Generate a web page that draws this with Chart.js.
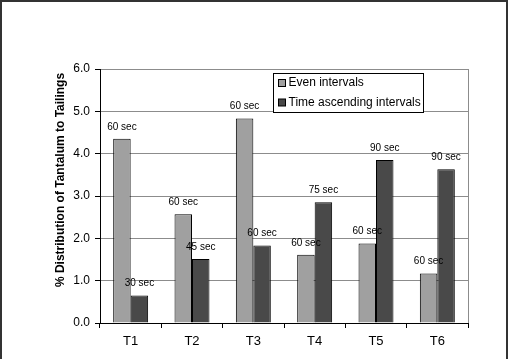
<!DOCTYPE html>
<html>
<head>
<meta charset="utf-8">
<script src="https://cdn.jsdelivr.net/npm/chart.js@4.4.0/dist/chart.umd.min.js"></script>
<style>
  html, body { margin: 0; padding: 0; background: #ffffff; }
  canvas { display: block; }
</style>
</head>
<body>
<canvas id="myChart" width="511" height="359"></canvas>
<script>
'use strict';

// chart data
let categories = ['T1', 'T2', 'T3', 'T4', 'T5', 'T6'];
let evenValues = [4.35, 2.57, 4.83, 1.61, 1.88, 1.17];
let timeValues = [0.65, 1.51, 1.83, 2.85, 3.85, 3.63];
let evenLabels = ['60 sec', '60 sec', '60 sec', '60 sec', '60 sec', '60 sec'];
let timeLabels = ['30 sec', '45 sec', '60 sec', '75 sec', '90 sec', '90 sec'];
let seriesNames = ['Even intervals', 'Time ascending intervals'];
let yTicks = ['0.0', '1.0', '2.0', '3.0', '4.0', '5.0', '6.0'];

let font = 'Liberation Sans, Arial, sans-serif';
let evenColor = '#a0a0a0';
let timeColor = '#494949';

// draws the frame, bar labels, y title and legend
let extras = {
  id: 'extras',
  beforeDraw(chart) {
    let ctx = chart.ctx;
    ctx.save();
    ctx.fillStyle = '#ffffff';
    ctx.fillRect(0, 0, chart.width, chart.height);
    ctx.restore();
  },
  afterDraw(chart) {
    let ctx = chart.ctx;
    let area = chart.chartArea;
    ctx.save();

    // outer frame
    ctx.strokeStyle = '#333333';
    ctx.lineWidth = 2;
    ctx.strokeRect(1, 1, 506, 400);

    // right edge of the plot
    ctx.strokeStyle = '#8c8c8c';
    ctx.lineWidth = 1;
    ctx.beginPath();
    ctx.moveTo(Math.round(area.right) + 0.5, area.top);
    ctx.lineTo(Math.round(area.right) + 0.5, area.bottom);
    ctx.stroke();

    // labels over the bars
    ctx.fillStyle = '#000000';
    ctx.font = '10px ' + font;
    ctx.textAlign = 'center';
    ctx.textBaseline = 'middle';
    let allLabels = [evenLabels, timeLabels];
    for (let d = 0; d < 2; d++) {
      let meta = chart.getDatasetMeta(d);
      meta.data.forEach(function (bar, i) {
        ctx.fillText(allLabels[d][i], bar.x, bar.y - 12);
      });
    }

    // y axis title
    ctx.save();
    ctx.translate(61, 180);
    ctx.rotate(-Math.PI / 2);
    ctx.font = 'bold 12px ' + font;
    ctx.fillText('% Distribution of Tantalum to Tailings', 0, 0);
    ctx.restore();

    // legend box
    let lx = 273.5, ly = 73.5, lw = 150, lh = 39;
    ctx.fillStyle = '#ffffff';
    ctx.fillRect(lx, ly, lw, lh);
    ctx.strokeStyle = '#000000';
    ctx.lineWidth = 1;
    ctx.strokeRect(lx, ly, lw, lh);
    let colors = [evenColor, timeColor];
    ctx.font = '12px ' + font;
    ctx.textAlign = 'left';
    for (let i = 0; i < seriesNames.length; i++) {
      let cy = 83 + i * 19.5;
      ctx.fillStyle = colors[i];
      ctx.fillRect(lx + 5, cy - 3.5, 7, 7);
      ctx.strokeRect(lx + 5, cy - 3.5, 7, 7);
      ctx.fillStyle = '#000000';
      ctx.fillText(seriesNames[i], lx + 15, cy);
    }
    ctx.restore();
  }
};

let config = {
  type: 'bar',
  data: {
    labels: categories,
    datasets: [{
      label: seriesNames[0],
      data: evenValues,
      backgroundColor: evenColor,
      borderColor: '#000000',
      borderWidth: 1,
      categoryPercentage: 0.57,
      barPercentage: 1
    },
    {
      label: seriesNames[1],
      data: timeValues,
      backgroundColor: timeColor,
      borderColor: '#000000',
      borderWidth: 1,
      categoryPercentage: 0.57,
      barPercentage: 1
    }]
  },
  options: {
    responsive: false,
    animation: false,
    layout: {
      padding: { left: 0, top: 69, right: 43, bottom: 0 }
    },
    plugins: {
      legend: { display: false },
      tooltip: { enabled: false }
    },
    scales: {
      x: {
        afterFit(scale) { scale.height = 36; },
        grid: {
          offset: true,
          drawOnChartArea: false,
          tickLength: 5,
          tickColor: '#000000'
        },
        border: { color: '#000000', width: 1 },
        ticks: {
          color: '#000000',
          font: { family: font, size: 13 },
          padding: 6
        }
      },
      y: {
        min: 0,
        max: 6,
        afterFit(scale) { scale.width = 100; },
        afterBuildTicks(scale) {
          scale.ticks = yTicks.map(function (t) { return { value: parseFloat(t) }; });
        },
        grid: {
          color: '#8c8c8c',
          tickLength: 5,
          tickColor: '#000000'
        },
        border: { color: '#000000', width: 1 },
        ticks: {
          color: '#000000',
          font: { family: font, size: 12 },
          padding: 5,
          callback: function (value) { return yTicks[Math.round(value)]; }
        }
      }
    }
  },
  plugins: [extras]
};

const ctx = document.getElementById('myChart').getContext('2d');
const myChart = new Chart(ctx, config);
</script>
</body>
</html>
